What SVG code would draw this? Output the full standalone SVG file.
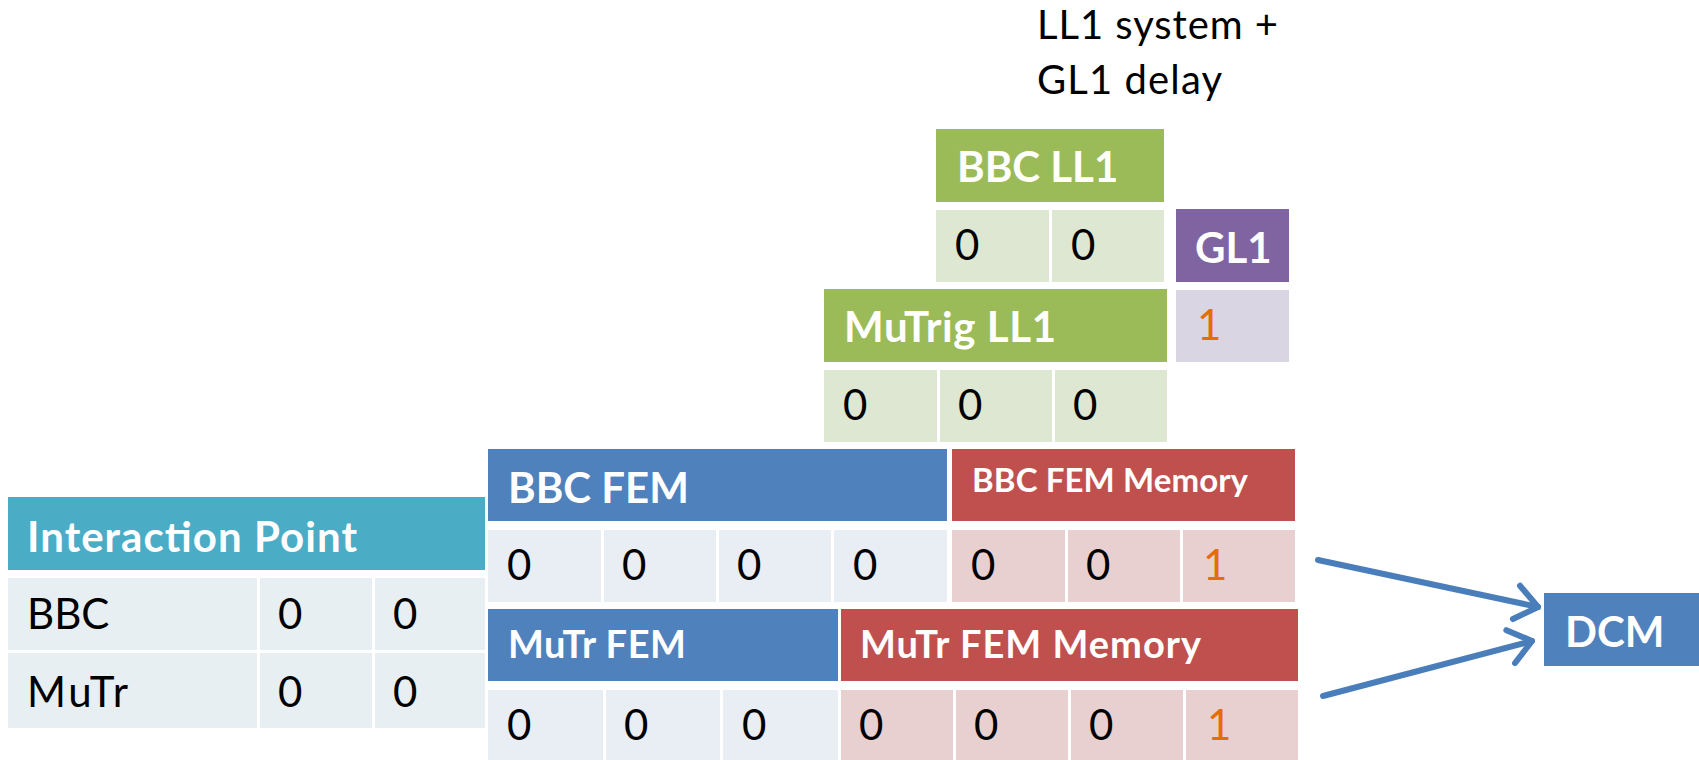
<svg xmlns="http://www.w3.org/2000/svg" width="1699" height="760" viewBox="0 0 1699 760">
<style>
text{font-family:Lato,"Open Sans","Liberation Sans",sans-serif}
.hd{font-weight:bold;fill:#fff;font-size:42px}
.hm{font-weight:bold;fill:#fff;font-size:38px}
.hs{font-weight:bold;fill:#fff;font-size:33px}
.v{fill:#000;font-size:42px}
.o{fill:#E46C0A;font-size:42px}
.tt{fill:#000;font-size:40px}
.teal{fill:#4BACC6}.tealL{fill:#E8EFF2}
.blue{fill:#4F81BD}.blueL{fill:#E9EDF4}
.red{fill:#C0504D}.redL{fill:#E8D0D0}
.green{fill:#9BBB59}.greenL{fill:#DEE7D1}
.purple{fill:#8064A2}.purpleL{fill:#D9D5E2}
.conn{stroke:#4A7EBB;stroke-width:6;fill:none;stroke-linecap:round}
</style>
<defs>
<marker id="open" markerUnits="userSpaceOnUse" viewBox="-30 -25 40 50" markerWidth="40" markerHeight="50" refX="0" refY="0" orient="auto">
<path d="M-22,-17 L0,0 L-22,17" fill="none" stroke="#4A7EBB" stroke-width="6" stroke-linecap="round" stroke-linejoin="round"/>
</marker>
</defs>
<rect width="1699" height="760" fill="#fff"/>

<g id="title">
<text class="tt" x="1037" y="39" textLength="241">LL1 system +</text>
<text class="tt" x="1037" y="94" textLength="185">GL1 delay</text>
</g>

<g id="interaction-point">
<rect class="teal" x="8" y="497" width="477" height="73"/>
<text class="hd" x="27" y="552" textLength="330">Interaction Point</text>
<rect class="tealL" x="8" y="578" width="249" height="72"/>
<rect class="tealL" x="260" y="578" width="112" height="72"/>
<rect class="tealL" x="375" y="578" width="110" height="72"/>
<rect class="tealL" x="8" y="653" width="249" height="75"/>
<rect class="tealL" x="260" y="653" width="112" height="75"/>
<rect class="tealL" x="375" y="653" width="110" height="75"/>
<text class="v" x="27" y="629">BBC</text>
<text class="v" x="278" y="629">0</text>
<text class="v" x="393" y="629">0</text>
<text class="v" x="27" y="707" textLength="101">MuTr</text>
<text class="v" x="278" y="707">0</text>
<text class="v" x="393" y="707">0</text>
</g>

<g id="bbc-ll1">
<rect class="green" x="936" y="129" width="228" height="73"/>
<text class="hd" x="957" y="182">BBC LL1</text>
<rect class="greenL" x="936" y="210" width="113" height="72"/>
<rect class="greenL" x="1052" y="210" width="112" height="72"/>
<text class="v" x="955" y="260">0</text>
<text class="v" x="1071" y="260">0</text>
</g>

<g id="gl1">
<rect class="purple" x="1176" y="209" width="113" height="73"/>
<text class="hd" x="1195" y="263">GL1</text>
<rect class="purpleL" x="1176" y="290" width="113" height="72"/>
<text class="o" x="1197" y="340">1</text>
</g>

<g id="mutrig-ll1">
<rect class="green" x="824" y="289" width="343" height="73"/>
<text class="hd" x="844" y="342" textLength="212">MuTrig LL1</text>
<rect class="greenL" x="824" y="370" width="113" height="72"/>
<rect class="greenL" x="940" y="370" width="112" height="72"/>
<rect class="greenL" x="1055" y="370" width="112" height="72"/>
<text class="v" x="843" y="420">0</text>
<text class="v" x="958" y="420">0</text>
<text class="v" x="1073" y="420">0</text>
</g>

<g id="bbc-fem">
<rect class="blue" x="488" y="449" width="459" height="72"/>
<text class="hd" x="508" y="503">BBC FEM</text>
<rect class="blueL" x="488" y="530" width="113" height="72"/>
<rect class="blueL" x="604" y="530" width="112" height="72"/>
<rect class="blueL" x="719" y="530" width="112" height="72"/>
<rect class="blueL" x="834" y="530" width="113" height="72"/>
<text class="v" x="507" y="580">0</text>
<text class="v" x="622" y="580">0</text>
<text class="v" x="737" y="580">0</text>
<text class="v" x="853" y="580">0</text>
</g>

<g id="bbc-fem-memory">
<rect class="red" x="952" y="449" width="343" height="72"/>
<text class="hs" x="972" y="492" textLength="276">BBC FEM Memory</text>
<rect class="redL" x="952" y="530" width="113" height="72"/>
<rect class="redL" x="1068" y="530" width="112" height="72"/>
<rect class="redL" x="1183" y="530" width="112" height="72"/>
<text class="v" x="971" y="580">0</text>
<text class="v" x="1086" y="580">0</text>
<text class="o" x="1203" y="580">1</text>
</g>

<g id="mutr-fem">
<rect class="blue" x="488" y="609" width="350" height="72"/>
<text class="hm" x="508" y="658" textLength="178">MuTr FEM</text>
<rect class="blueL" x="488" y="690" width="115" height="72"/>
<rect class="blueL" x="606" y="690" width="114" height="72"/>
<rect class="blueL" x="723" y="690" width="115" height="72"/>
<text class="v" x="507" y="740">0</text>
<text class="v" x="624" y="740">0</text>
<text class="v" x="742" y="740">0</text>
</g>

<g id="mutr-fem-memory">
<rect class="red" x="841" y="609" width="457" height="72"/>
<text class="hm" x="860" y="658" textLength="341">MuTr FEM Memory</text>
<rect class="redL" x="841" y="690" width="112" height="72"/>
<rect class="redL" x="956" y="690" width="112" height="72"/>
<rect class="redL" x="1071" y="690" width="112" height="72"/>
<rect class="redL" x="1186" y="690" width="112" height="72"/>
<text class="v" x="859" y="740">0</text>
<text class="v" x="974" y="740">0</text>
<text class="v" x="1089" y="740">0</text>
<text class="o" x="1207" y="740">1</text>
</g>

<g id="dcm">
<rect class="blue" x="1544" y="593" width="160" height="73"/>
<text class="hd" x="1565" y="647">DCM</text>
</g>

<g id="connectors">
<line class="conn" x1="1318" y1="560" x2="1538" y2="607" marker-end="url(#open)"/>
<line class="conn" x1="1323" y1="696" x2="1532" y2="641" marker-end="url(#open)"/>
</g>
</svg>
